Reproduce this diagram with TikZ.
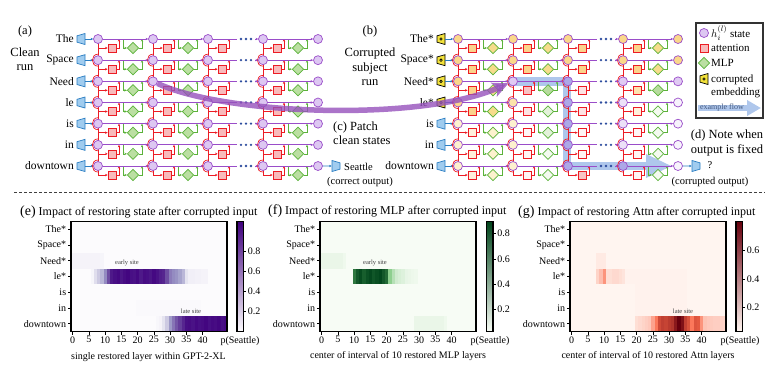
\documentclass[tikz,border=0pt]{standalone}
\usepackage{fontspec}
\setmainfont{Liberation Serif}
\usetikzlibrary{shapes.geometric,arrows.meta}

% circuit colours
\definecolor{statedraw}{HTML}{9A4DC9}
\definecolor{statefill}{HTML}{DDC7F2}
\definecolor{attndraw}{HTML}{EC1C24}
\definecolor{attnfill}{HTML}{F8BABB}
\definecolor{mlpdraw}{HTML}{5BB23A}
\definecolor{mlpfill}{HTML}{BBDFA2}
\definecolor{embdraw}{HTML}{2A7DC2}
\definecolor{embfill}{HTML}{A0CCEF}
\definecolor{corrfill}{HTML}{F3E23A}
\definecolor{flowband}{HTML}{AFC7EC}
\definecolor{flowtext}{HTML}{44597F}
\definecolor{patchline}{HTML}{9651BC}
\definecolor{dotblue}{HTML}{2D4C9E}
% tints of the corrupted run
\definecolor{sc}{HTML}{FAD78A}
\definecolor{sm}{HTML}{FCE4AA}
\definecolor{sl}{HTML}{FDF1CF}
\definecolor{sf}{HTML}{ACA8E7}
\definecolor{sp}{HTML}{E0CAF3}
\definecolor{sq}{HTML}{ECE1F8}
\definecolor{sw}{HTML}{F7F3FC}
\definecolor{ac}{HTML}{FBD38C}
\definecolor{al}{HTML}{FFF0DC}
\definecolor{ao}{HTML}{FDE2B0}
\definecolor{ap}{HTML}{F8C2C3}
\definecolor{aq}{HTML}{FDE3E3}
\definecolor{aw}{HTML}{FFF5F5}
\definecolor{mc}{HTML}{F6DC8C}
\definecolor{ml}{HTML}{FDF2CE}
\definecolor{mg}{HTML}{B7DB9E}
\definecolor{mq}{HTML}{E3F1DA}
\definecolor{mw}{HTML}{F4FAF0}
% colour maps of the three traces
\definecolor{puL}{HTML}{FCFBFD}
\definecolor{puM}{HTML}{9E9AC8}
\definecolor{puD}{HTML}{3F007D}
\definecolor{grL}{HTML}{F7FCF5}
\definecolor{grM}{HTML}{74C476}
\definecolor{grD}{HTML}{00441B}
\definecolor{rdL}{HTML}{FFF5F0}
\definecolor{rdM}{HTML}{FB6A4A}
\definecolor{rdD}{HTML}{67000D}

% one cell colour of a trace: low, mid, high, value 0..100
\newcommand{\heatcolour}[4]{%
  \ifnum#4<50
    \pgfmathtruncatemacro{\hmix}{2*#4}\colorlet{cellc}{#2!\hmix!#1}%
  \else
    \pgfmathtruncatemacro{\hmix}{2*#4-100}\colorlet{cellc}{#3!\hmix!#2}%
  \fi}
% one row of a trace: x0, row, first layer, map, values
\newcommand{\heatrow}[5]{%
  \foreach \val [count=\lay from #3] in {#5}{%
    \ifnum\val>0
      \heatcolour{#4L}{#4M}{#4D}{\val}%
      \fill[cellc] ({#1+3.25*\lay},{221.5+110/7*(#2-1)}) rectangle ++(3.35,{110/7});
    \fi}}
% frame, ticks and tick labels of a trace: x0, name
\newcommand{\heatframe}[2]{%
  \draw[line width=1.1pt] (#1,221.5) rectangle ++(156,110);
  \foreach \r/\word in {1/The*,2/Space*,3/Need*,4/le*,5/is,6/in,7/downtown}
    \draw[axisw] (#1,{221.5+110/7*(\r-0.5)}) -- ++(-3,0)
      node[ticklab,anchor=east] (#2-y\r) {\word};
  \foreach \t in {0,5,...,40}
    \draw[axisw] ({#1+3.25*(\t+0.5)},331.5) -- ++(0,3)
      node[ticklab,anchor=north] (#2-x\t) {\t};}
% colour bar: x, map, name, ticks value/y
\newcommand{\heatbar}[4]{%
  \shade[bottom color=#2L,middle color=#2M,top color=#2D] (#1,221.5) rectangle ++(6.5,110);
  \draw[line width=1.1pt] (#1,221.5) rectangle ++(6.5,110);
  \foreach \tv/\ty [count=\n] in {#4}
    \draw[axisw] ({#1+6.5},\ty) -- ++(2.5,0) node[ticklab,anchor=west] (#3-c\n) {\tv};}

% attention read-out lines, one per layer column: x of the first state
\newcommand{\attncolumns}[1]{%
  \foreach \k in {0,...,3}
    \draw[attnw] ({#1+55*\k},39) -- ({#1+55*\k},{39+21.17*6+9});}
% wires of one run: prefix, x of the first state
\newcommand{\wirepanel}[2]{%
  \foreach \r in {1,...,7}{
    \pgfmathsetmacro{\y}{39+21.17*(\r-1)}
    \draw[embw] (e#1-\r) -- (s#1-\r-0);
    \foreach \k in {0,...,3}{
      \coordinate (ra#1-\r-\k) at ({#2+55*\k+21},\y);
      \draw[attnw,->] (s#1-\r-\k |- a#1-\r-\k) -- (a#1-\r-\k);
      \draw[attnw,->] (a#1-\r-\k.east) -| (ra#1-\r-\k);
      \ifnum\r>1
        \draw[attnw] ([yshift=6pt]s#1-\r-\k.center) to[out=180,in=180,looseness=1.6] ([yshift=-6pt]s#1-\r-\k.center);
      \fi
    }
    \foreach \k in {0,1,3}{
      \pgfmathtruncatemacro{\kn}{\k+1}
      \coordinate (mi#1-\r-\k) at ({#2+55*\k+25},\y);
      \coordinate (mo#1-\r-\k) at ({#2+55*\k+44},\y);
      \draw[mlpw,->] (mi#1-\r-\k) |- (m#1-\r-\k);
      \draw[mlpw,->] (m#1-\r-\k.east) -| (mo#1-\r-\k);
      \draw[resw] (s#1-\r-\k) -- (s#1-\r-\kn);
    }
    % the skipped layers
    \coordinate (dl#1-\r) at ({#2+139},\y);
    \coordinate (dr#1-\r) at ({#2+157},\y);
    \draw[resw,-] (s#1-\r-2) -- (dl#1-\r);
    \foreach \dx in {143,148,153} \fill[dotblue] ({#2+\dx},\y) circle (1.3pt);
    \draw[resw] (dr#1-\r) -- (s#1-\r-3);
  }}

\begin{document}
\begin{tikzpicture}[x=1pt,y=-1pt,
  >={Stealth[length=2.6pt,width=2.4pt]},
  font=\fontsize{11}{13}\selectfont,
  state/.style={circle,draw=statedraw,fill=statefill,line width=0.7pt,minimum size=9pt,inner sep=0pt},
  attn/.style={rectangle,draw=attndraw,fill=attnfill,line width=0.7pt,minimum size=8pt,inner sep=0pt},
  mlp/.style={diamond,draw=mlpdraw,fill=mlpfill,line width=0.7pt,minimum size=11.5pt,inner sep=0.5pt},
  embshape/.style={trapezium,trapezium stretches,trapezium angle=70,minimum width=11pt,minimum height=8pt,inner sep=0.5pt,draw=embdraw,fill=embfill,line width=0.7pt},
  emb/.style={embshape,rotate=90},
  outemb/.style={embshape,rotate=-90},
  corremb/.style={emb,draw=black,fill=corrfill},
  resw/.style={draw=statedraw,line width=0.8pt,->},
  attnw/.style={draw=attndraw,line width=0.7pt},
  mlpw/.style={draw=mlpdraw,line width=0.7pt},
  embw/.style={draw=embdraw,line width=0.7pt,->},
  rowword/.style={anchor=east,inner sep=0pt,font=\fontsize{11.5}{13}\selectfont},
  runlabel/.style={align=center,inner sep=0pt,font=\fontsize{12.5}{14.5}\selectfont},
  outlabel/.style={inner sep=0pt,font=\fontsize{10.5}{12}\selectfont},
  legendtext/.style={anchor=west,inner sep=0pt,font=\fontsize{11}{13}\selectfont},
  ticklab/.style={inner sep=1.5pt,font=\fontsize{10}{11}\selectfont},
  sitelab/.style={inner sep=0pt,text=black!75,font=\fontsize{6.5}{7}\selectfont},
  heattitle/.style={anchor=west,inner sep=0pt,font=\fontsize{12}{13}\selectfont},
  axisw/.style={line width=0.7pt},
  flowpath/.style={draw=flowband,line width=8.5pt,-{Triangle[length=26pt,width=22pt]}},
  patch/.style={draw=patchline,opacity=0.8,line width=5.5pt,-{Stealth[length=16pt,width=15pt,inset=4pt]}},
]
\useasboundingbox (0,0) rectangle (778,383);

% example flow in the corrupted run
\coordinate (fl-0) at (508,81.3);
\coordinate (fl-1) at (567,81.3);
\coordinate (fl-2) at (567,166);
\coordinate (fl-3) at (672,166);
\draw[flowpath] (fl-0) -- (fl-1) -- (fl-2) -- (fl-3);

\attncolumns{98}
\attncolumns{458}

% clean run
\foreach \r/\word in {1/The,2/Space,3/Need,4/le,5/is,6/in,7/downtown}{
  \pgfmathsetmacro{\y}{39+21.17*(\r-1)}
  \node[rowword] (wa-\r) at (74,\y) {\word};
  \node[emb] (ea-\r) at (81,\y) {};
  \foreach \k in {0,...,4} \node[state] (sa-\r-\k) at ({98+55*\k},\y) {};
  \foreach \k in {0,...,3} \node[attn] (aa-\r-\k) at ({112+55*\k},{\y+9}) {};
  \foreach \k in {0,1,3} \node[mlp] (ma-\r-\k) at ({133+55*\k},{\y+9}) {};
}

% corrupted run
\foreach \r/\word in {1/The*,2/Space*,3/Need*,4/le*,5/is,6/in,7/downtown}
  \node[rowword] (wb-\r) at (434,{39+21.17*(\r-1)}) {\word};
\foreach \r in {1,...,4}{
  \node[corremb] (eb-\r) at (441,{39+21.17*(\r-1)}) {};
  \fill (eb-\r.center) circle (1.7pt);
  \fill[corrfill] (eb-\r.center) circle (0.6pt);
}
\foreach \r in {5,6,7}
  \node[emb] (eb-\r) at (441,{39+21.17*(\r-1)}) {};
\foreach \k/\tints in {0/{sc,sc,sc,sc,sl,sl,sl},1/{sc,sc,sp,sm,sl,sl,sl},2/{sc,sc,sf,sf,sf,sf,sf},3/{sc,sc,sp,sq,sq,sq,sf},4/{sc,sc,sp,sw,sw,sw,sw}}
  \foreach \tint [count=\r] in \tints
    \node[state,fill=\tint] (sb-\r-\k) at ({458+55*\k},{39+21.17*(\r-1)}) {};
\foreach \k/\tints in {0/{ac,ac,ac,ac,al,al,al},1/{ac,ac,ap,aq,aw,aw,aw},2/{ac,ac,aq,aq,aw,aw,ap},3/{ac,ac,ao,al,aw,aw,aw}}
  \foreach \tint [count=\r] in \tints
    \node[attn,fill=\tint] (ab-\r-\k) at ({472+55*\k},{48+21.17*(\r-1)}) {};
\foreach \k/\tints in {0/{mc,mc,mc,mc,ml,ml,ml},1/{mc,mc,mg,mq,mq,mw,mw},3/{mc,mc,mg,mw,mw,mw,mw}}
  \foreach \tint [count=\r] in \tints
    \node[mlp,fill=\tint] (mb-\r-\k) at ({493+55*\k},{48+21.17*(\r-1)}) {};

\wirepanel{a}{98}
\wirepanel{b}{458}

% outputs
\node[outemb] (oa) at (336,166) {};
\draw[embw] (sa-7-4) -- (oa);
\node[outlabel,anchor=west] (seattle) at (344,166.5) {Seattle};
\node[outlabel] (correct) at (360,182) {(correct output)};
\node[outemb] (ob) at (696,166) {};
\draw[embw] (sb-7-4) -- (ob);
\node[outlabel] (query) at (710,165.5) {?};
\node[outlabel] (corrupted) at (710,182) {(corrupted output)};

% patching a clean state into the corrupted run
\draw[patch] (sa-3-1) .. controls (225,115) and (420,122) .. (sb-3-1);

\node[runlabel] (lab-a) at (25,31) {(a)};
\node[runlabel] (lab-clean) at (25,59) {Clean\\run};
\node[runlabel] (lab-b) at (370,31) {(b)};
\node[runlabel] (lab-corr) at (370,67) {Corrupted\\subject\\run};
\node[runlabel,align=left,anchor=west] (lab-c) at (333,133) {(c) Patch\\clean states};
\node[runlabel] (lab-d) at (727,143) {(d) Note when\\output is fixed};

% legend
\draw[line width=1.1pt,draw=black!80] (696,23) rectangle (763,118);
\node[state] (lg-state) at (704,33) {};
\node[legendtext] (lt-state) at (711,33) {$h_i^{(l)}$ state};
\node[attn] (lg-attn) at (704,48) {};
\node[legendtext] (lt-attn) at (711,48) {attention};
\node[mlp] (lg-mlp) at (704,63) {};
\node[legendtext] (lt-mlp) at (711,63) {MLP};
\node[corremb] (lg-corr) at (704,79) {};
\fill (lg-corr.center) circle (1.7pt);
\fill[corrfill] (lg-corr.center) circle (0.6pt);
\node[legendtext,align=left] (lt-corr) at (711,86) {corrupted\\embedding};
\coordinate (lg-f0) at (698,108);
\coordinate (lg-f1) at (761,108);
\draw[flowpath,line width=6pt,-{Triangle[length=14pt,width=15pt]}] (lg-f0) -- (lg-f1);
\node[inner sep=0pt,text=flowtext,font=\fontsize{8}{9}\selectfont] (lt-flow) at (722,107.5) {example flow};

% separator
\coordinate (sep-l) at (14,192);
\coordinate (sep-r) at (765,192);
\draw[dash pattern=on 3pt off 2pt,line width=0.9pt,draw=black!75] (sep-l) -- (sep-r);

% (e) restoring the hidden state
\fill[puL] (71,221.5) rectangle ++(156,110);
\heatrow{71}{3}{0}{pu}{4,4,4,4,4,4,4,4,4,3}
\heatrow{71}{4}{6}{pu}{3,15,25,35,55,75,92,95,97,93,96,98,95,94,97,92,96,95,93,97,94,90,88,75,60,55,52,45,35,12,6,6,5,5,4,4}
\heatrow{71}{6}{20}{pu}{1,1,1,1,1,1,1,1,1,1,1,1,1,1,1,1,1,1,1,1}
\heatrow{71}{7}{26}{pu}{2,4,12,25,50,62,72,80,88,95,96,94,97,95,96,98,95,97,96,98,95,97}
\heatframe{71}{he}
\heatbar{237}{pu}{he}{0.8/251,0.6/271,0.4/291,0.2/311}
\node[sitelab] (he-early) at (127,263) {early site};
\node[sitelab] (he-late) at (191,311) {late site};
\node[heattitle] (he-title) at (20,212) {{\fontsize{14}{14}\selectfont(e)} Impact of restoring state after corrupted input};
\node[ticklab] (he-p) at (240,341) {p(Seattle)};
\node[ticklab] (he-xlab) at (148.5,357.5) {single restored layer within GPT-2-XL};

% (f) restoring the MLP
\fill[grL] (320,221.5) rectangle ++(156,110);
\heatrow{320}{3}{0}{gr}{5,5,5,5,5,5,5,3}
\heatrow{320}{4}{10}{gr}{80,92,97,90,95,98,93,96,99,92,85,40,25,15,12,10,6,5,4,3}
\heatrow{320}{7}{29}{gr}{5,5,5,5,5,5,5,5,5,3}
\heatframe{320}{hf}
\heatbar{486.5}{gr}{hf}{0.8/233,0.6/259,0.4/284,0.2/309}
\node[sitelab] (hf-early) at (375,263) {early site};
\node[heattitle] (hf-title) at (268,211) {{\fontsize{14}{14}\selectfont(f)} Impact of restoring MLP after corrupted input};
\node[ticklab] (hf-p) at (490,341) {p(Seattle)};
\node[ticklab] (hf-xlab) at (398,356) {center of interval of 10 restored MLP layers};

% (g) restoring the attention
\fill[rdL] (570,221.5) rectangle ++(156,110);
\heatrow{570}{3}{8}{rd}{4,4,4}
\heatrow{570}{4}{8}{rd}{12,20,35,8,8,10,10,8,6,1,1,1,1,1,1,1,1,1,1,1,1,1,1,1,1,1,1,1}
\heatrow{570}{5}{20}{rd}{1,1,1,1,1,1,1,1,1,1,1,1,1,1,1,1}
\heatrow{570}{6}{20}{rd}{1,1,1,1,1,1,1,1,1,1,1,1,1,1,1,1}
\heatrow{570}{7}{20}{rd}{8,10,12,14,16,30,45,65,70,68,72,75,88,100,92,70,62,45,60,58,35,18,16,15,14,14,13,12}
\heatframe{570}{hg}
\heatbar{736}{rd}{hg}{0.6/250,0.4/279,0.2/307}
\node[sitelab] (hg-late) at (683,311) {late site};
\node[heattitle] (hg-title) at (518,212) {{\fontsize{14}{14}\selectfont(g)} Impact of restoring Attn after corrupted input};
\node[ticklab] (hg-p) at (740,341) {p(Seattle)};
\node[ticklab] (hg-xlab) at (648,356.5) {center of interval of 10 restored Attn layers};
\end{tikzpicture}
\end{document}
